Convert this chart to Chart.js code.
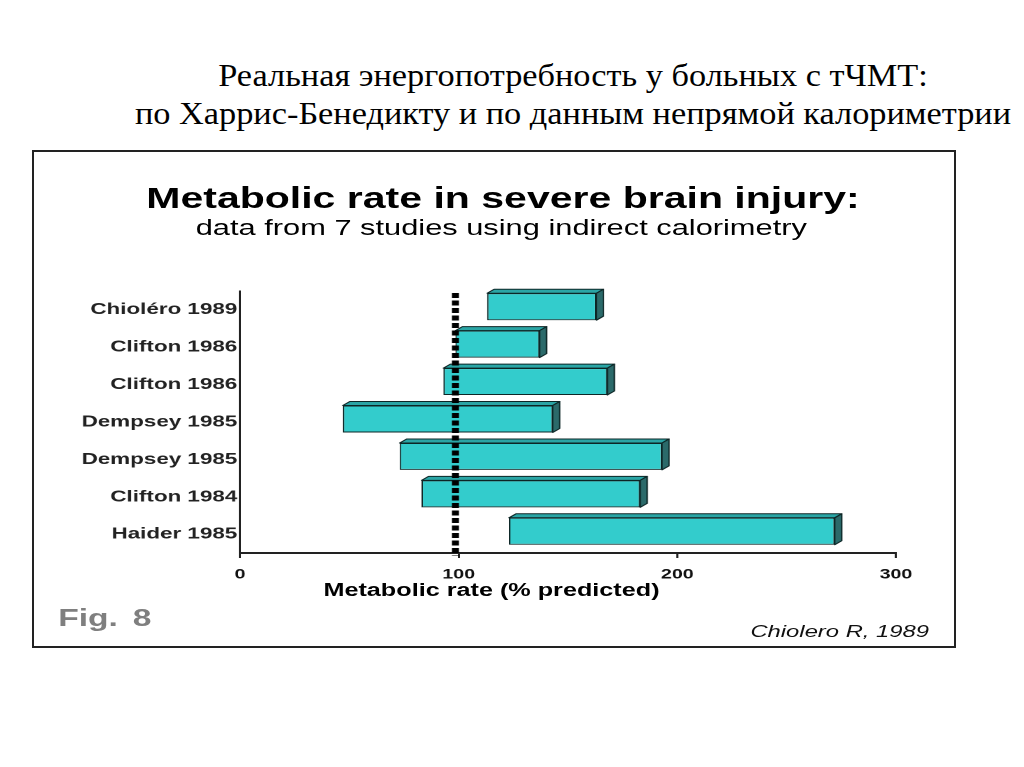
<!DOCTYPE html>
<html>
<head>
<meta charset="utf-8">
<script src="https://cdn.jsdelivr.net/npm/chart.js@4.4.1/dist/chart.umd.min.js"></script>
<style>
  html, body { margin:0; padding:0; background:#fff; width:1024px; height:767px; overflow:hidden; }
  #heading { position:absolute; left:73px; top:57px; width:1000px; text-align:center;
             font-family:"Liberation Serif","Times New Roman",serif; font-size:31px; line-height:37.5px; color:#000;
             transform:scaleX(1.107); transform-origin:500px 0; }
  #box { position:absolute; left:32px; top:150px; width:924px; height:498px; border:2px solid #222; box-sizing:border-box; }
  #stretch { position:absolute; left:33px; top:151px; width:660px; height:497px; transform:scaleX(1.4); transform-origin:0 0; }
  .t { position:absolute; white-space:nowrap; font-family:"Liberation Sans", Arial, sans-serif; color:#000; }
  #title { left:0; width:671.4px; top:32px; text-align:center; font-size:29.3px; line-height:29.3px; font-weight:bold; }
  #subtitle { left:0; width:669px; top:66px; text-align:center; font-size:22px; line-height:22px; }
  #xtitle { left:0; width:655px; top:430px; text-align:center; font-size:18px; line-height:18px; font-weight:bold; }
  #fig { left:18px; top:455px; font-size:24px; line-height:24px; font-weight:bold; color:#7f7f7f; word-spacing:4px; }
  #cite { left:0; width:640px; top:471.5px; text-align:right; font-size:17px; line-height:17px; font-style:italic; color:#111; }
  #wrap { position:absolute; left:0; top:119px; width:660px; height:360px; }
</style>
</head>
<body>
<div id="heading">Реальная энергопотребность у больных с тЧМТ:<br>по Харрис-Бенедикту и по данным непрямой калориметрии</div>
<div id="box"></div>
<div id="stretch">
  <div class="t" id="title">Metabolic rate in severe brain injury:</div>
  <div class="t" id="subtitle">data from 7 studies using indirect calorimetry</div>
  <div id="wrap"><canvas id="c"></canvas></div>
  <div class="t" id="xtitle">Metabolic rate (% predicted)</div>
  <div class="t" id="fig">Fig. 8</div>
  <div class="t" id="cite">Chiolero R, 1989</div>
</div>
<script>
const categories = ['Chioléro 1989', 'Clifton 1986', 'Clifton 1986', 'Dempsey 1985', 'Dempsey 1985', 'Clifton 1984', 'Haider 1985'];
const rateLow  = [113, 98.5, 93, 47, 73, 83, 123];
const rateHigh = [163, 137, 168, 143, 193, 183, 272];
const xTickValues = [0, 100, 200, 300];
const predictedLine = 98.5;

const bar3d = {
  id: 'bar3d',
  beforeDatasetsDraw(chart) {
    chart.ctx.save();
    chart.ctx.translate(0, -3);
  },
  afterDatasetsDraw(chart) {
    const ctx = chart.ctx;
    const meta = chart.getDatasetMeta(0);
    const dx = 5, dy = 4;
    meta.data.forEach(bar => {
      const p = bar.getProps(['x', 'y', 'base', 'height'], true);
      const l = Math.min(p.x, p.base), r = Math.max(p.x, p.base);
      const t = p.y - p.height / 2, b = p.y + p.height / 2;
      ctx.save();
      ctx.lineWidth = 1;
      ctx.strokeStyle = '#0d2626';
      ctx.lineJoin = 'round';
      ctx.beginPath();
      ctx.moveTo(l, t); ctx.lineTo(l + dx, t - dy); ctx.lineTo(r + dx, t - dy); ctx.lineTo(r, t); ctx.closePath();
      ctx.fillStyle = '#2aa5a5'; ctx.fill(); ctx.stroke();
      ctx.beginPath();
      ctx.moveTo(r, t); ctx.lineTo(r + dx, t - dy); ctx.lineTo(r + dx, b - dy); ctx.lineTo(r, b); ctx.closePath();
      ctx.fillStyle = '#2b6a6a'; ctx.fill(); ctx.stroke();
      ctx.restore();
    });
    ctx.restore();
    const xs = chart.scales.x, area = chart.chartArea;
    const px = xs.getPixelForValue(predictedLine);
    ctx.save();
    ctx.strokeStyle = '#000';
    ctx.lineWidth = 5;
    ctx.setLineDash([5, 2.5]);
    ctx.beginPath();
    ctx.moveTo(px, area.top + 2);
    ctx.lineTo(px, area.bottom + 3);
    ctx.stroke();
    ctx.restore();
  }
};

new Chart(document.getElementById('c'), {
  type: 'bar',
  data: {
    labels: categories,
    datasets: [{
      data: rateLow.map((v, i) => [v, rateHigh[i]]),
      backgroundColor: '#33cccc',
      borderColor: '#0d2626',
      borderWidth: 1,
      borderSkipped: false,
      barPercentage: 0.72,
      categoryPercentage: 1
    }]
  },
  options: {
    indexAxis: 'y',
    responsive: true,
    maintainAspectRatio: false,
    animation: false,
    devicePixelRatio: 2,
    layout: { padding: { left: 0, right: 43.6, top: 21, bottom: 0 } },
    plugins: { legend: { display: false }, tooltip: { enabled: false }, title: { display: false } },
    scales: {
      x: {
        type: 'linear', min: 0, max: 300,
        afterBuildTicks: s => { s.ticks = xTickValues.map(v => ({ value: v })); },
        afterFit: s => { s.height = 77; },
        grid: { display: true, drawOnChartArea: false, drawTicks: true, tickLength: 5, color: '#222', lineWidth: 1.5 },
        border: { display: true, color: '#222', width: 2 },
        ticks: { color: '#111', padding: 8, font: { family: '"Liberation Sans", Arial, sans-serif', size: 14, weight: 'bold' } }
      },
      y: {
        type: 'category',
        afterFit: s => { s.width = 147.9; },
        grid: { display: false, drawTicks: false },
        border: { display: true, color: '#222', width: 1.5 },
        ticks: { color: '#222', padding: 2, font: { family: '"Liberation Sans", Arial, sans-serif', size: 16, weight: 'bold' } }
      }
    }
  },
  plugins: [bar3d]
});
</script>
</body>
</html>
